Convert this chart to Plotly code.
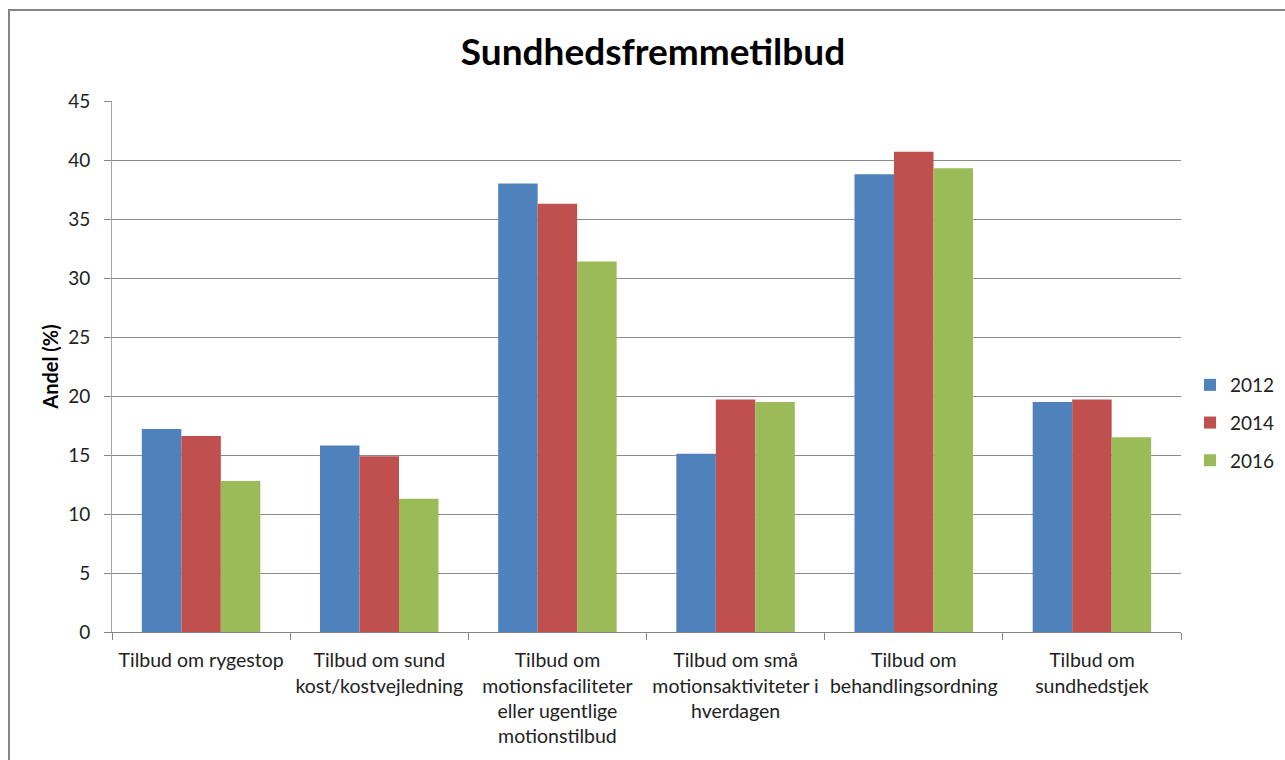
import plotly.graph_objects as go

# Survey shares (%) of workplaces offering each health-promotion scheme
categories = [
    "Tilbud om rygestop",
    "Tilbud om sund<br>kost/kostvejledning",
    "Tilbud om<br>motionsfaciliteter<br>eller ugentlige<br>motionstilbud",
    "Tilbud om små<br>motionsaktiviteter i<br>hverdagen",
    "Tilbud om<br>behandlingsordning",
    "Tilbud om<br>sundhedstjek",
]
years = ["2012", "2014", "2016"]
share_2012 = [17.2, 15.8, 38.0, 15.1, 38.8, 19.5]
share_2014 = [16.6, 14.9, 36.3, 19.7, 40.7, 19.7]
share_2016 = [12.8, 11.3, 31.4, 19.5, 39.3, 16.5]
y_ticks = [0, 5, 10, 15, 20, 25, 30, 35, 40, 45]

series = [share_2012, share_2014, share_2016]
colors = ["#4F81BD", "#C0504D", "#9BBB59"]

FONT = "Lato, 'Liberation Sans', sans-serif"

# plot area in pixels
L, R, T, B = 112, 1181, 101, 632
PW, PH = R - L, B - T

fig = go.Figure()
for year, vals, col in zip(years, series, colors):
    fig.add_trace(go.Bar(
        x=categories, y=vals, name=year, legendgroup=year,
        marker=dict(color=col, line=dict(width=0)),
    ))

fig.update_layout(
    width=1285, height=760,
    paper_bgcolor="white", plot_bgcolor="white",
    margin=dict(l=L, r=1285 - R, t=T, b=760 - B, autoexpand=False),
    barmode="group", bargap=0.335, bargroupgap=0,
    font=dict(family=FONT, size=20, color="#222222"),
    title=dict(
        text="<b>Sundhedsfremmetilbud</b>",
        font=dict(family=FONT, size=37, color="black"),
        x=(653 - L) / PW, xref="paper", xanchor="center",
        y=1 - 52 / 760, yref="container", yanchor="middle",
    ),
    legend=dict(
        x=(1190 - L) / PW, xanchor="left",
        y=(B - 423) / PH, yanchor="middle",
        font=dict(family=FONT, size=19, color="#222222"),
        tracegroupgap=10, itemwidth=30, bgcolor="rgba(0,0,0,0)",
    ),
    showlegend=True,
)

fig.update_xaxes(
    type="category",
    showline=True, linecolor="#868686", linewidth=1,
    ticks="outside", tickson="boundaries", ticklen=7, tickcolor="#868686",
    tickfont=dict(family=FONT, size=19.5, color="#222222"),
    tickangle=0,
    ticklabelstandoff=11,
    showgrid=False,
)
fig.update_yaxes(
    range=[0, 45], tickvals=y_ticks,
    showline=True, linecolor="#A6A6A6", linewidth=1,
    ticks="outside", ticklen=7, tickcolor="#868686",
    ticklabelstandoff=10,
    showgrid=True, gridcolor="#8C8C8C", gridwidth=1,
    zeroline=False,
    tickfont=dict(family=FONT, size=19, color="#222222"),
    title=dict(text="<b>Andel (%)</b>", font=dict(family=FONT, size=20, color="black"),
               standoff=4),
)

# Chart frame
fig.add_shape(
    type="rect", xref="paper", yref="paper",
    x0=(9 - L) / PW, x1=(1300 - L) / PW,
    y0=(B - 780) / PH, y1=(B - 10) / PH,
    line=dict(color="#868686", width=2), fillcolor="rgba(0,0,0,0)",
    layer="above",
)

fig.write_html("out.html")
